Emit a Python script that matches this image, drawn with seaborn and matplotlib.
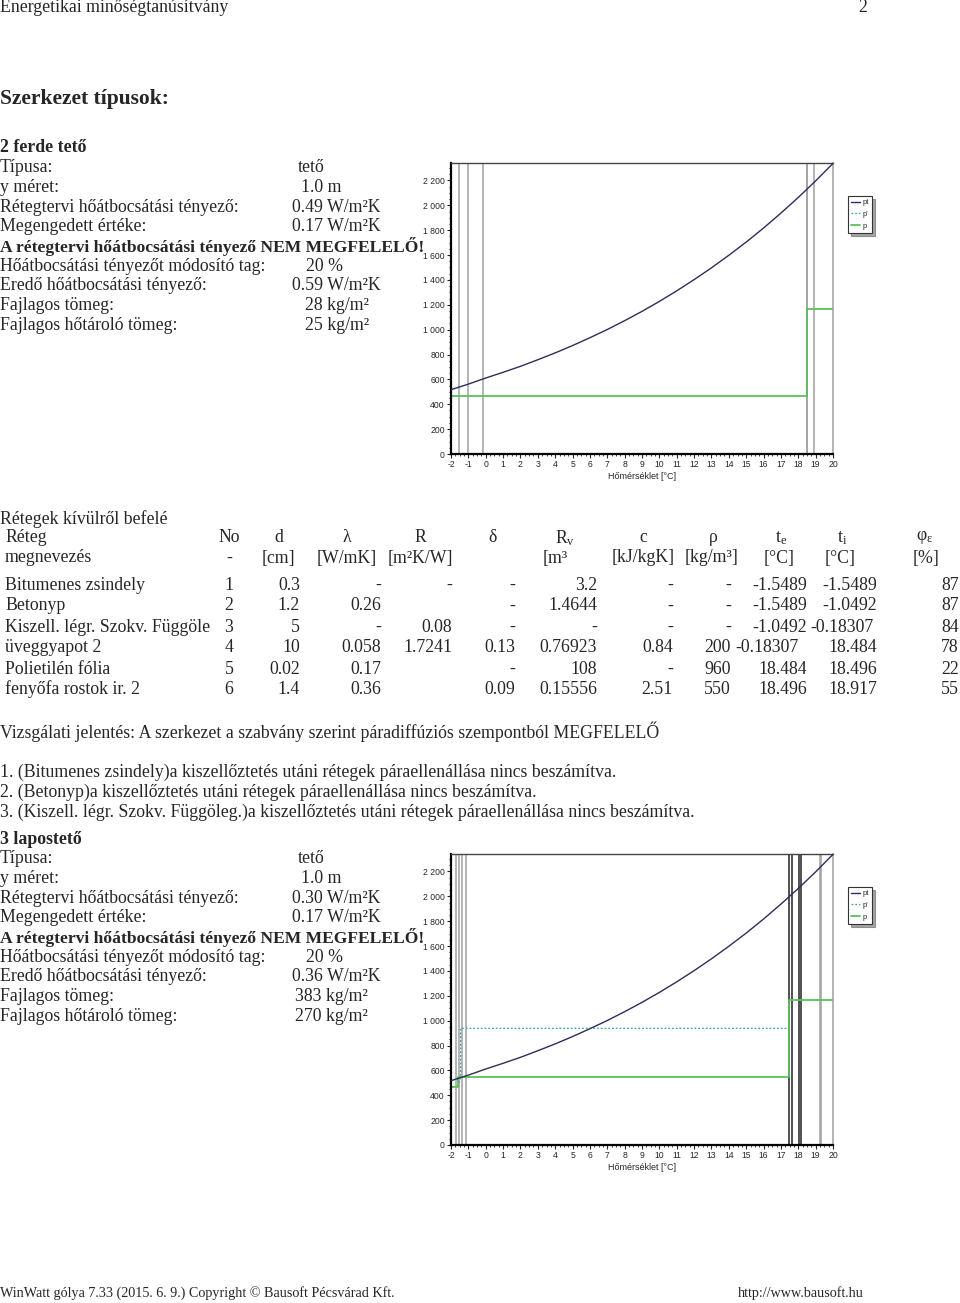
import numpy as np
import pandas as pd
import seaborn as sns
import matplotlib.pyplot as plt
from matplotlib.ticker import FuncFormatter, MultipleLocator
from matplotlib.lines import Line2D

# page size in pixels
W, H = 960, 1303

# -------------------------------------------------------------------------
# data
# -------------------------------------------------------------------------
# saturation pressure curve (pt), Pa
pt_temp = [-2, -1, 0, 1, 2, 3, 4, 5, 6, 7, 8, 9, 10, 11, 12, 13, 14, 15, 16, 17, 18, 19, 20]
pt_vals = [517, 562, 611, 657, 705, 758, 813, 872, 935, 1001, 1072, 1147, 1227,
           1312, 1402, 1497, 1598, 1704, 1817, 1937, 2063, 2196, 2337]

# layer table of "2 ferde tető"
layer_names = ['Bitumenes zsindely', 'Betonyp', 'Kiszell. légr. Szokv. Függöle',
               'üveggyapot 2', 'Polietilén fólia', 'fenyőfa rostok ir. 2']
layer_no = ['1', '2', '3', '4', '5', '6']
d_cm = ['0.3', '1.2', '5', '10', '0.02', '1.4']
lam = ['-', '0.26', '-', '0.058', '0.17', '0.36']
r_val = ['-', '', '0.08', '1.7241', '', '']
delta = ['-', '-', '-', '0.13', '-', '0.09']
rv = ['3.2', '1.4644', '-', '0.76923', '108', '0.15556']
c_val = ['-', '-', '-', '0.84', '-', '2.51']
rho = ['-', '-', '-', '200', '960', '550']
t_e = [-1.5489, -1.5489, -1.0492, -0.18307, 18.484, 18.496]
t_i = [-1.5489, -1.0492, -0.18307, 18.484, 18.496, 18.917]
phi = [87, 87, 84, 78, 22, 55]

# vapour pressure lines, chart 1
p1_x = [-2, 18.484, 18.484, 20]
p1_y = [465, 465, 1165, 1165]

# chart 2 (3 lapostető)
bounds2_grey = [-1.71, -1.52, -1.37, -1.15, 19.25, 19.33]
bounds2_dark = [17.47, 17.62, 18.04, 18.17]
p2_x = [-2, -1.6, -1.6, 17.47, 17.47, 20]
p2_y = [470, 470, 545, 545, 1165, 1165]
pp2_x = [-1.6, -1.45, -1.45, 17.47]
pp2_y = [470, 545, 938, 938]

# -------------------------------------------------------------------------
# page
# -------------------------------------------------------------------------
sns.set_style('white')
plt.rcParams['font.family'] = ['Liberation Serif', 'DejaVu Serif']
plt.rcParams['mathtext.fontset'] = 'custom'
plt.rcParams['mathtext.rm'] = 'Liberation Serif'
plt.rcParams['mathtext.it'] = 'Liberation Serif:italic'
plt.rcParams['axes.unicode_minus'] = False

fig = plt.figure(figsize=(W / 100, H / 100), dpi=100)
fig.patch.set_facecolor('white')

FS = 12.75


def put(x, y, s, ha='left', size=FS, weight='normal', **kw):
    fig.text(x / W, 1 - y / H, s, ha=ha, va='center', fontsize=size,
             fontweight=weight, **kw)


put(0, 8, 'Energetikai minőségtanúsítvány')
put(858, 8, '2')
put(0, 99, 'Szerkezet típusok:', size=15.5, weight='bold')


def header_block(y0, title, u_val, u_res, mass, heat_mass):
    put(0, y0, title, weight='bold')
    rows = [('Típusa:', 'tető', 298),
            ('y méret:', '1.0 m', 301),
            ('Rétegtervi hőátbocsátási tényező:', u_val + ' W/m²K', 292),
            ('Megengedett értéke:', '0.17 W/m²K', 292),
            (None, None, None),
            ('Hőátbocsátási tényezőt módosító tag:', '20 %', 306),
            ('Eredő hőátbocsátási tényező:', u_res + ' W/m²K', 292),
            ('Fajlagos tömeg:', mass + ' kg/m²', 305 if len(mass) < 3 else 295),
            ('Fajlagos hőtároló tömeg:', heat_mass + ' kg/m²', 305 if len(heat_mass) < 3 else 295)]
    for k, (lab, val, vx) in enumerate(rows):
        y = y0 + 19.7 * (k + 1)
        if lab is None:
            put(0, y, 'A rétegtervi hőátbocsátási tényező NEM MEGFELELŐ!', weight='bold',
                size=12.6)
        else:
            put(0, y, lab)
            put(vx, y, val)


header_block(148, '2 ferde tető', '0.49', '0.59', '28', '25')

# layer table
put(0, 519, 'Rétegek kívülről befelé')
heads1 = [('Réteg', 5, 'left'), ('No', 229, 'center'), ('d', 279, 'center'),
          ('λ', 347, 'center'), ('R', 420, 'center'), ('δ', 493, 'center'),
          ('R$_\\mathrm{v}$', 565, 'center'), ('c', 643, 'center'), ('ρ', 713, 'center'),
          ('t$_\\mathrm{e}$', 781, 'center'), ('t$_\\mathrm{i}$', 842, 'center'),
          ('φ$_\\mathrm{ε}$', 925, 'center')]
for s, x, ha in heads1:
    put(x, 538, s, ha=ha)
heads2 = [('megnevezés', 5, 'left'), ('-', 229, 'center'), ('[cm]', 278, 'center'),
          ('[W/mK]', 347, 'center'), ('[m²K/W]', 420, 'center'), ('[m³', 543, 'left'),
          ('[kJ/kgK]', 643, 'center'), ('[kg/m³]', 712, 'center'), ('[°C]', 779, 'center'),
          ('[°C]', 840, 'center'), ('[%]', 913, 'left')]
for s, x, ha in heads2:
    put(x, 558, s, ha=ha)

row_y = [585, 606, 627, 648, 669, 689]
cols = [(d_cm, 300), (lam, 381), (r_val, 452), (delta, 515), (rv, 597),
        (c_val, 673), (rho, 731)]
for i, y in enumerate(row_y):
    put(5, y, layer_names[i])
    put(229, y, layer_no[i], ha='center')
    for vals, xr in cols:
        put(xr, y, vals[i], ha='right')
    s = str(t_e[i])
    put(735 if len(s) > 7 else 807, y, s, ha='left' if len(s) > 7 else 'right')
    s = str(t_i[i])
    put(810 if len(s) > 7 else 877, y, s, ha='left' if len(s) > 7 else 'right')
    put(959, y, str(phi[i]), ha='right')

put(0, 732, 'Vizsgálati jelentés: A szerkezet a szabvány szerint páradiffúziós szempontból MEGFELELŐ')
put(0, 772, '1. (Bitumenes zsindely)a kiszellőztetés utáni rétegek páraellenállása nincs beszámítva.')
put(0, 792, '2. (Betonyp)a kiszellőztetés utáni rétegek páraellenállása nincs beszámítva.')
put(0, 812, '3. (Kiszell. légr. Szokv. Függöleg.)a kiszellőztetés utáni rétegek páraellenállása nincs beszámítva.')

header_block(839, '3 lapostető', '0.30', '0.36', '383', '270')

put(0, 1293, 'WinWatt gólya 7.33 (2015. 6. 9.) Copyright © Bausoft Pécsvárad Kft.', size=10.2)
put(738, 1293, 'http://www.bausoft.hu', size=10.2)

# -------------------------------------------------------------------------
# charts
# -------------------------------------------------------------------------
SMALL = ['Liberation Sans', 'DejaVu Sans']
C_PT = '#2e2c5c'
C_P = '#5cbf5c'
C_PP = '#3aa6a0'
C_GREY = '#a0a0a0'

pt_df = pd.DataFrame({'T': pt_temp, 'p': pt_vals})


def make_chart(top_px, grey_lines, dark_lines, px, py, ppx=None, ppy=None, legend=True):
    ax = fig.add_axes([451 / W, 1 - (top_px + 291) / H, 382 / W, 291 / H])
    for v in grey_lines:
        ax.axvline(v, color=C_GREY, lw=1.1, zorder=1)
    for v in dark_lines:
        ax.axvline(v, color='#222222', lw=1.1, zorder=1)
    sns.lineplot(data=pt_df, x='T', y='p', ax=ax, color=C_PT, lw=1.0, zorder=3)
    if ppx is not None:
        sns.lineplot(x=ppx, y=ppy, ax=ax, color=C_PP, lw=0.9, ls=(0, (1.5, 1.5)),
                     estimator=None, sort=False, zorder=2)
    sns.lineplot(x=px, y=py, ax=ax, color=C_P, lw=1.3, estimator=None, sort=False, zorder=2)
    ax.set_xlim(-2, 20)
    ax.set_ylim(0, 2340)
    ax.xaxis.set_major_locator(MultipleLocator(1))
    ax.xaxis.set_minor_locator(MultipleLocator(0.25))
    ax.yaxis.set_major_locator(MultipleLocator(200))
    ax.yaxis.set_minor_locator(MultipleLocator(50))
    ax.yaxis.set_major_formatter(FuncFormatter(lambda v, _: f'{int(v):,}'.replace(',', ' ')))
    ax.tick_params(axis='both', which='major', direction='out', length=3, width=0.8,
                   labelsize=6.2, pad=1.5, left=True, bottom=True)
    ax.tick_params(axis='both', which='minor', direction='out', length=1.5, width=0.6,
                   left=True, bottom=True)
    for lab in ax.get_xticklabels() + ax.get_yticklabels():
        lab.set_family(SMALL)
    ax.set_xlabel('Hőmérséklet [°C]', fontsize=6.5, family=SMALL, labelpad=2)
    ax.set_ylabel('')
    for side in ['left', 'bottom']:
        ax.spines[side].set_color('black')
        ax.spines[side].set_linewidth(1.6)
    ax.spines['top'].set_color('#444444')
    ax.spines['top'].set_linewidth(1.0)
    ax.spines['right'].set_color(C_GREY)
    ax.spines['right'].set_linewidth(1.1)
    if legend:
        handles = [Line2D([], [], color=C_PT, lw=1.0),
                   Line2D([], [], color=C_PP, lw=0.9, ls=(0, (1.5, 1.5))),
                   Line2D([], [], color=C_P, lw=1.3)]
        leg = ax.legend(handles, ['pt', "p'", 'p'], loc='upper left',
                        bbox_to_anchor=(844 / W, 1 - (top_px + 29) / H),
                        bbox_transform=fig.transFigure, prop={'family': SMALL, 'size': 5.5},
                        handlelength=1.2, handletextpad=0.3, borderpad=0.4,
                        labelspacing=0.6, frameon=True, fancybox=False, shadow=True)
        leg.get_frame().set_edgecolor('#333333')
        leg.get_frame().set_linewidth(0.8)
    return ax


bounds1 = sorted(set(t_e + t_i))
make_chart(163, bounds1, [], p1_x, p1_y)
make_chart(854, bounds2_grey, bounds2_dark, p2_x, p2_y, pp2_x, pp2_y)

fig.savefig('out.png', dpi=100)
